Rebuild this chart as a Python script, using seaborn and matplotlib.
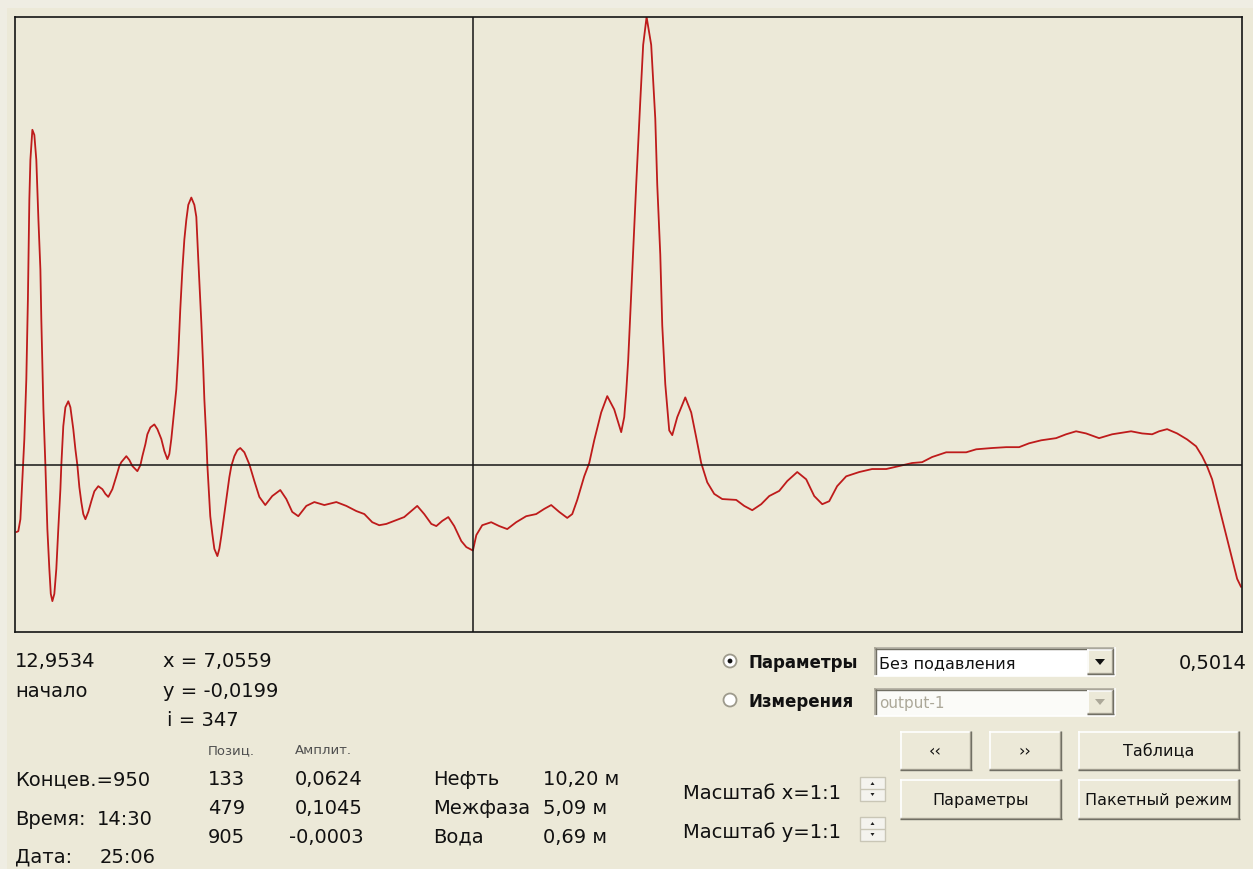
import matplotlib
matplotlib.use("Agg")
import matplotlib.pyplot as plt
from matplotlib.patches import Rectangle, Circle, Polygon
import pandas as pd
import seaborn as sns

# Reflectogram samples: sample index and amplitude
sample_index = [
    0.0, 1.5, 3.1, 4.6, 6.1, 7.6, 8.8, 9.9, 10.7, 12.2, 13.7, 15.2, 16.8, 18.3, 19.0,
    20.6, 22.1, 23.6, 25.1, 26.2, 27.4, 28.9, 30.4, 31.9, 33.5, 34.2, 35.7, 37.3, 39.5,
    41.1, 43.3, 44.9, 46.4, 47.9, 49.4, 50.9, 52.5, 54.7, 57.0, 59.3, 62.3, 65.4, 67.7,
    69.9, 73.0, 76.0, 78.3, 79.8, 83.6, 85.9, 88.2, 92.0, 94.3, 95.8, 98.1, 99.6, 101.9,
    104.9, 107.2, 110.2, 112.5, 114.8, 116.3, 117.8, 119.3, 121.6, 123.1, 124.6, 126.2,
    127.7, 129.2, 130.7, 133.0, 135.3, 136.8, 138.3, 139.8, 140.6, 142.1, 142.9, 144.4,
    145.2, 146.7, 147.4, 149.0, 150.5, 152.8, 154.3, 155.8, 158.1, 159.6, 161.9, 163.4,
    165.7, 168.0, 170.2, 173.3, 177.1, 180.9, 184.7, 189.2, 194.5, 200.6, 205.2, 209.7,
    214.3, 220.4, 226.5, 234.1, 243.2, 250.8, 258.4, 264.5, 270.5, 275.8, 281.2, 288.8,
    294.8, 300.2, 304.7, 310.0, 315.4, 319.2, 323.7, 328.3, 332.8, 338.2, 342.0, 347.0,
    349.6, 354.1, 360.9, 367.0, 373.1, 379.9, 387.5, 395.1, 401.2, 406.5, 412.6, 418.7,
    422.5, 426.3, 431.6, 435.4, 439.2, 444.5, 449.1, 454.4, 459.7, 462.0, 463.5, 465.0,
    468.1, 471.1, 474.2, 476.4, 479.0, 482.5, 485.6, 487.1, 489.4, 490.9, 493.2, 496.2,
    498.5, 502.3, 508.4, 512.9, 516.7, 520.5, 525.1, 530.4, 536.5, 547.1, 553.2, 559.3,
    566.1, 572.2, 579.8, 585.9, 593.5, 600.3, 606.4, 612.5, 617.8, 623.8, 630.7, 640.6,
    650.4, 661.1, 671.0, 680.8, 688.4, 696.0, 706.7, 721.9, 729.5, 741.6, 752.3, 762.1,
    769.7, 778.9, 790.2, 797.8, 805.4, 813.0, 822.9, 832.8, 847.2, 855.6, 863.2, 868.5,
    874.6, 882.2, 889.8, 896.6, 901.2, 905.0, 908.8, 912.6, 916.4, 920.2, 924.0, 927.8,
    930.8,
]
amplitude = [
    -0.0156, -0.0154, -0.0126, -0.0033, 0.0061, 0.0200, 0.0386, 0.0619, 0.0712, 0.0782,
    0.0770, 0.0712, 0.0572, 0.0456, 0.0340, 0.0130, 0.0000, -0.0149, -0.0242, -0.0300,
    -0.0317, -0.0300, -0.0242, -0.0149, -0.0056, 0.0000, 0.0091, 0.0135, 0.0149, 0.0135,
    0.0084, 0.0037, 0.0000, -0.0051, -0.0086, -0.0114, -0.0126, -0.0109, -0.0084, -0.0061,
    -0.0049, -0.0056, -0.0067, -0.0074, -0.0056, -0.0026, -0.0002, 0.0007, 0.0021, 0.0012,
    -0.0002, -0.0014, 0.0000, 0.0021, 0.0049, 0.0072, 0.0088, 0.0095, 0.0084, 0.0061,
    0.0033, 0.0014, 0.0026, 0.0061, 0.0107, 0.0177, 0.0258, 0.0363, 0.0456, 0.0526,
    0.0572, 0.0607, 0.0624, 0.0607, 0.0579, 0.0479, 0.0386, 0.0333, 0.0223, 0.0154,
    0.0061, 0.0000, -0.0079, -0.0119, -0.0161, -0.0195, -0.0212, -0.0195, -0.0165, -0.0114,
    -0.0079, -0.0028, -0.0002, 0.0021, 0.0035, 0.0040, 0.0030, 0.0002, -0.0037, -0.0074,
    -0.0093, -0.0072, -0.0058, -0.0079, -0.0109, -0.0119, -0.0095, -0.0086, -0.0093, -0.0086,
    -0.0095, -0.0107, -0.0114, -0.0133, -0.0140, -0.0137, -0.0128, -0.0121, -0.0107, -0.0095,
    -0.0114, -0.0137, -0.0142, -0.0130, -0.0121, -0.0142, -0.0177, -0.0191, -0.0199, -0.0163,
    -0.0140, -0.0133, -0.0142, -0.0149, -0.0133, -0.0119, -0.0114, -0.0102, -0.0093, -0.0109,
    -0.0123, -0.0114, -0.0081, -0.0026, 0.0005, 0.0058, 0.0123, 0.0161, 0.0130, 0.0077,
    0.0112, 0.0170, 0.0244, 0.0454, 0.0654, 0.0849, 0.0980, 0.1045, 0.0980, 0.0808,
    0.0654, 0.0491, 0.0326, 0.0189, 0.0081, 0.0070, 0.0112, 0.0158, 0.0123, 0.0065,
    0.0005, -0.0040, -0.0067, -0.0079, -0.0081, -0.0095, -0.0105, -0.0091, -0.0072, -0.0060,
    -0.0037, -0.0016, -0.0033, -0.0072, -0.0091, -0.0084, -0.0049, -0.0026, -0.0016, -0.0009,
    -0.0009, -0.0002, 0.0005, 0.0007, 0.0019, 0.0030, 0.0030, 0.0037, 0.0040, 0.0042,
    0.0042, 0.0051, 0.0058, 0.0063, 0.0072, 0.0079, 0.0074, 0.0063, 0.0072, 0.0079,
    0.0074, 0.0072, 0.0079, 0.0084, 0.0074, 0.0060, 0.0044, 0.0021, -0.0003, -0.0033,
    -0.0079, -0.0126, -0.0172, -0.0219, -0.0265, -0.0284,
]

# Cursor readout
cursor_index = 347
cursor_x = 7.0559
cursor_y = -0.0199
range_start = 12.9534
range_end = 0.5014
end_index = 950

# Detected peaks
peak_positions = [133, 479, 905]
peak_amplitudes = [0.0624, 0.1045, -0.0003]

# Interface levels
layer_names = ["Нефть", "Межфаза", "Вода"]
layer_depths = [10.20, 5.09, 0.69]

time_text = "14:30"
date_text = "25:06"


def fmt(v, nd=4):
    return f"{v:.{nd}f}".replace(".", ",")


W, H = 1253, 870
BG = "#ECE9D8"
LINE = "#BE1B1B"

sns.set_theme(style="white")
plt.rcParams["font.family"] = ["DejaVu Sans"]

fig = plt.figure(figsize=(W / 100, H / 100), dpi=100, facecolor=BG)

# Pixel-space layer for the control panel
ui = fig.add_axes([0, 0, 1, 1])
ui.set_xlim(0, W)
ui.set_ylim(H, 0)
ui.axis("off")
ui.patch.set_alpha(0)

# Faint lighter window edge along the top and left
ui.add_patch(Rectangle((0, 0), W, 9, facecolor="#EFEDE3", edgecolor="none"))
ui.add_patch(Rectangle((0, 0), 7, H, facecolor="#EFEDE3", edgecolor="none"))

# Trace window
ax = fig.add_axes([15 / W, 1 - 633 / H, 1227 / W, 615 / H])
ax.set_facecolor(BG)
df = pd.DataFrame({"sample": sample_index, "amp": amplitude})
sns.lineplot(data=df, x="sample", y="amp", ax=ax, color=LINE, linewidth=1.3,
             errorbar=None, sort=False)
ax.axvline(cursor_index, color="#151515", lw=1.1)
ax.axhline(0, color="#151515", lw=1.1)
ax.set_xlim(-1.0, 931.5)
ax.set_ylim(-0.0389, 0.1045)
ax.set_xticks([])
ax.set_yticks([])
ax.set_xlabel("")
ax.set_ylabel("")
for s in ax.spines.values():
    s.set_color("#151515")
    s.set_linewidth(1.2)

BIG = 14
TXT = "#111111"


def label(x, y, s, size=BIG, **kw):
    kw.setdefault("color", TXT)
    ui.text(x, y, s, fontsize=size, va="baseline", ha=kw.pop("ha", "left"), **kw)


def hline(x0, x1, y, c, lw=1.0):
    ui.plot([x0, x1], [y, y], color=c, lw=lw, solid_capstyle="butt")


def vline(x, y0, y1, c, lw=1.0):
    ui.plot([x, x], [y0, y1], color=c, lw=lw, solid_capstyle="butt")


def raised(x0, y0, x1, y1, face=BG):
    ui.add_patch(Rectangle((x0, y0), x1 - x0, y1 - y0, facecolor=face, edgecolor="none"))
    hline(x0, x1, y0 + 0.5, "white", 1.2)
    vline(x0 + 0.5, y0, y1, "white", 1.2)
    hline(x0, x1, y1 - 1.5, "#ACA899", 1.0)
    vline(x1 - 1.5, y0, y1, "#ACA899", 1.0)
    hline(x0, x1 + 0.5, y1 - 0.3, "#716F64", 1.0)
    vline(x1 - 0.3, y0, y1, "#716F64", 1.0)


def sunken(x0, y0, x1, y1, face="white"):
    ui.add_patch(Rectangle((x0, y0), x1 - x0, y1 - y0, facecolor=face, edgecolor="none"))
    hline(x0, x1, y0 + 0.5, "#ACA899", 1.2)
    vline(x0 + 0.5, y0, y1, "#ACA899", 1.2)
    hline(x0 + 1, x1 - 1, y0 + 1.8, "#716F64", 1.0)
    vline(x0 + 1.8, y0 + 1, y1 - 1, "#716F64", 1.0)
    hline(x0, x1, y1 - 0.5, "white", 1.2)
    vline(x1 - 0.5, y0, y1, "white", 1.2)


# Readout block (left)
label(15, 667, fmt(range_start))
label(163, 667, f"x = {fmt(cursor_x)}")
label(15, 697, "начало")
label(163, 697, f"y = {fmt(cursor_y)}")
label(167, 726, f"i = {cursor_index}")

label(208, 754, "Позиц.", size=9.5, color="#505050")
label(295, 754, "Амплит.", size=9.5, color="#505050")

label(15, 785, f"Концев.={end_index}")
label(15, 825, "Время:")
label(97, 825, time_text)
label(15, 863, "Дата:")
label(100, 863, date_text)

row_base = [785, 814, 843]
for yb, pos, amp, name, depth in zip(row_base, peak_positions, peak_amplitudes,
                                     layer_names, layer_depths):
    label(208, yb, str(pos))
    label(295 if amp >= 0 else 289, yb, fmt(amp))
    label(433, yb, name)
    label(543, yb, f"{fmt(depth, 2)} м")

# Scale controls
label(683, 799, "Масштаб x=1:1")
label(683, 838, "Масштаб y=1:1")
for y0 in (778, 818):
    ui.add_patch(Rectangle((860, y0), 25, 24, facecolor="#F4F3EE", edgecolor="#C9C6B6", lw=1))
    hline(860, 885, y0 + 12, "#C9C6B6", 1.0)
    ui.add_patch(Polygon([(870.5, y0 + 8), (874.5, y0 + 8), (872.5, y0 + 5)],
                         closed=True, facecolor="#222", edgecolor="none"))
    ui.add_patch(Polygon([(870.5, y0 + 16), (874.5, y0 + 16), (872.5, y0 + 19)],
                         closed=True, facecolor="#222", edgecolor="none"))

# Radio buttons
for cy, text, on in ((662, "Параметры", True), (701, "Измерения", False)):
    ui.add_patch(Circle((730, cy), 6.5, facecolor="white", edgecolor="#9D9A8C", lw=1.3))
    if on:
        ui.add_patch(Circle((730, cy), 2.4, facecolor="#111", edgecolor="none"))
    label(748, cy + 6, text, size=12, fontweight="bold")

# Combo boxes
sunken(874, 648, 1115, 677)
label(879, 668, "Без подавления", size=11.5)
raised(1087, 650, 1113, 675, face="#ECE9D8")
ui.add_patch(Polygon([(1095, 660), (1105, 660), (1100, 666)], closed=True,
                     facecolor="#111", edgecolor="none"))

sunken(874, 689, 1115, 717, face="#FBFBF8")
label(879, 708, "output-1", size=11, color="#ACA899")
raised(1087, 691, 1113, 715, face="#ECE9D8")
ui.add_patch(Polygon([(1095, 700), (1105, 700), (1100, 706)], closed=True,
                     facecolor="#ACA899", edgecolor="none"))

label(1247, 669, fmt(range_end), ha="right")

# Buttons
buttons = [
    (900, 732, 971, 771, "‹‹"),
    (989, 732, 1061, 771, "››"),
    (1078, 732, 1239, 771, "Таблица"),
    (900, 780, 1061, 820, "Параметры"),
    (1078, 780, 1239, 820, "Пакетный режим"),
]
for x0, y0, x1, y1, text in buttons:
    raised(x0, y0, x1, y1)
    ui.text((x0 + x1) / 2, (y0 + y1) / 2 + 5, text, fontsize=11.5, ha="center",
            va="baseline", color=TXT)

fig.savefig("out.png", dpi=100, facecolor=BG)
